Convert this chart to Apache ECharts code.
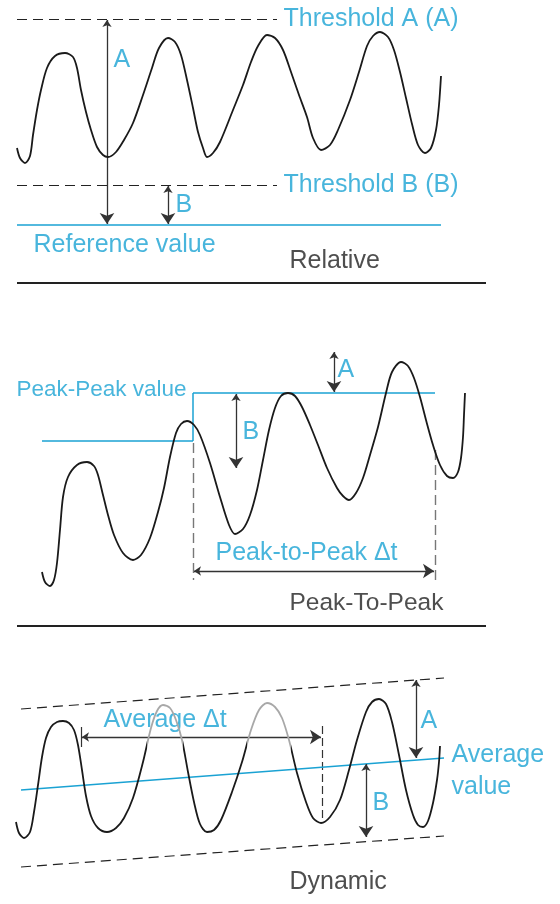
<!DOCTYPE html>
<html>
<head>
<meta charset="utf-8">
<script src="https://cdn.jsdelivr.net/npm/echarts@6/dist/echarts.min.js"></script>
<style>
  html, body { margin: 0; padding: 0; background: #fff; }
  #chart { width: 560px; height: 904px; }
</style>
</head>
<body>
<div id="chart"></div>
<script>
// waveforms (x, y in drawing units, y grows downward)
const waveRelative = [
  [17,148],[20,158],[25,163],[30,156],[33,135],[37,110],[41,90],[47,68],[55,56],[65,53],[73,57],[77,68],
  [81,90],[86,112],[91,130],[97,147],[103,155],[108,157],[116,152],[124,140],[133,123],[143,95],[152,68],
  [159,48],[168,38],[175,42],[181,55],[187,80],[193,108],[198,132],[203,148],[207,157],[213,153],[220,142],
  [233,110],[243,85],[251,62],[258,46],[267,35],[275,38],[283,50],[291,72],[299,95],[307,117],[313,138],
  [321,150],[330,145],[338,130],[350,100],[359,72],[367,46],[373,36],[380,32],[388,37],[394,50],[400,72],
  [406,98],[412,124],[418,145],[425,153],[431,148],[436,130],[439,105],[441,76]
];
const wavePeak = [
  [42,572],[45,582],[50,586],[54,580],[57,563],[60,530],[63,497],[68,477],[77,465],[87,462],[94,466],
  [98,475],[103,495],[108,515],[114,535],[123,553],[133,560],[141,555],[150,538],[158,512],[164,488],
  [170,457],[176,433],[181,424],[187,421],[194,425],[200,435],[210,463],[220,497],[229,525],[235,534],
  [243,529],[250,515],[257,490],[263,460],[269,430],[275,408],[281,396],[288,393],[295,396],[302,407],
  [310,425],[318,445],[327,468],[337,488],[343,496],[349,500],[356,493],[363,478],[370,455],[378,427],
  [386,393],[392,372],[401,362],[408,366],[414,378],[420,397],[426,420],[433,445],[440,465],[447,476],
  [453,478],[458,472],[461,458],[463,437],[464,415],[465,393]
];
const waveDynamic = [
  [16,822],[19,833],[24,838],[30,832],[34,812],[38,785],[42,757],[46,738],[51,727],[57,722],[63,721],[69,723],
  [74,730],[78,745],[82,770],[86,796],[91,816],[98,828],[107,832],[116,828],[124,818],[133,798],[143,762],
  [151,728],[157,711],[163,705],[170,708],[176,720],[182,740],[188,772],[194,802],[200,824],[207,832],
  [214,830],[221,820],[232,792],[242,762],[251,730],[259,710],[267,703],[275,707],[282,718],[289,740],
  [297,773],[306,802],[313,818],[321,823],[330,817],[340,800],[349,770],[357,740],[366,712],[372,702],
  [379,699],[386,704],[392,722],[399,755],[406,790],[413,815],[418,825],[423,827],[428,821],[433,803],
  [437,780],[439,762],[440,746]
];
// x spans of the dynamic wave drawn grey
const greySpans = [[147, 183], [247, 291]];

// straight guide lines [x1, y1, x2, y2]
const dashedLines = [
  [17,19,277,19],[17,185,277,185],
  [21,709,444,678],[21,867,444,836]
];
const greyDashed = [[193,443,193,580],[435,450,435,580]];
const blackDashed = [[322,726,322,822]];
const cyanLines = [
  [17,225,441,225],
  [42,441,193,441],[193,441,193,393],[193,393,435,393],
  [21,790,444,758]
];
const ruleLines = [[17,283,486,283],[17,626,486,626]];
const tickLines = [[81,727,81,747]];
const arrows = [
  [107,20,107,224],[168,186,168,224],
  [236,394,236,468],[334,352,334,392],[194,571,434,571],
  [82,737,321,737],[416,680,416,758],[366,764,366,837]
];

// labels
const cyanTexts = ['Threshold A (A)', 'A', 'Threshold B (B)', 'B', 'Reference value',
  'Peak-Peak value', 'B', 'A', 'Peak-to-Peak \u0394t',
  'Average \u0394t', 'A', 'B', 'Average', 'value'];
const cyanPos = [[283,19],[113,60],[283,185],[175,205],[33,245],
  [16,390],[242,432],[337,370],[215,553],
  [103,720],[420,721],[372,803],[451,755],[451,787]];
const cyanSizes = [25,25,25,25,25, 22.5,25,25,25, 25,25,25,25,25];
const blackTexts = ['Relative', 'Peak-To-Peak', 'Dynamic'];
const blackPos = [[289,261],[289,603],[289,882]];
const blackSizes = [25, 24.5, 25];

const CYAN = '#1aa2d3';
const INK = '#1a1a1a';
const FONT = 'Liberation Sans';

function segs(list) {
  return list.map(s => ({ coords: [[s[0], s[1]], [s[2], s[3]]] }));
}
function linesSeries(list, style, extra) {
  return Object.assign({
    type: 'lines',
    coordinateSystem: 'cartesian2d',
    silent: true,
    symbol: 'none',
    lineStyle: Object.assign({ opacity: 1, curveness: 0 }, style),
    data: segs(list)
  }, extra || {});
}
function waveSeries(pts, useVisual) {
  const s = {
    type: 'line',
    data: pts,
    smooth: 0.3,
    symbol: 'none',
    silent: true,
    itemStyle: { color: INK },
    lineStyle: { width: 1.8 }
  };
  if (!useVisual) s.lineStyle.color = INK;
  return s;
}
function textSeries(texts, pos, sizes, color) {
  return {
    type: 'scatter',
    symbolSize: 1,
    silent: true,
    itemStyle: { color: 'rgba(0,0,0,0)' },
    label: {
      show: true,
      position: 'right',
      distance: 0,
      formatter: '{b}',
      color: color,
      fontSize: 25,
      fontFamily: FONT
    },
    data: texts.map((t, i) => ({ name: t, value: pos[i], label: { fontSize: sizes[i] } }))
  };
}

const chart = echarts.init(document.getElementById('chart'));
chart.setOption({
  animation: false,
  backgroundColor: '#fff',
  grid: { left: 0, right: 0, top: 0, bottom: 0 },
  xAxis: { type: 'value', min: 0, max: 560, show: false },
  yAxis: { type: 'value', min: 0, max: 904, inverse: true, show: false },
  visualMap: {
    type: 'piecewise',
    show: false,
    seriesIndex: 2,
    dimension: 0,
    pieces: greySpans.map(s => ({ gte: s[0], lt: s[1], color: '#a8a8a8' })),
    outOfRange: { color: INK }
  },
  series: [
    waveSeries(waveRelative),
    waveSeries(wavePeak),
    waveSeries(waveDynamic, true),
    linesSeries(dashedLines, { color: '#222', width: 1.2, type: [10, 6] }),
    linesSeries(greyDashed, { color: '#777', width: 1.4, type: [10, 5] }),
    linesSeries(blackDashed, { color: '#333', width: 1.2, type: [8, 4] }),
    linesSeries(cyanLines, { color: CYAN, width: 1.5 }),
    linesSeries(ruleLines, { color: '#222', width: 2 }),
    linesSeries(tickLines, { color: '#333', width: 1.2 }),
    linesSeries(arrows, { color: '#333', width: 1.3 }, { symbol: ['arrow', 'arrow'], symbolSize: [7, 11] }),
    textSeries(cyanTexts, cyanPos, cyanSizes, CYAN),
    textSeries(blackTexts, blackPos, blackSizes, '#222')
  ]
});
</script>
</body>
</html>
